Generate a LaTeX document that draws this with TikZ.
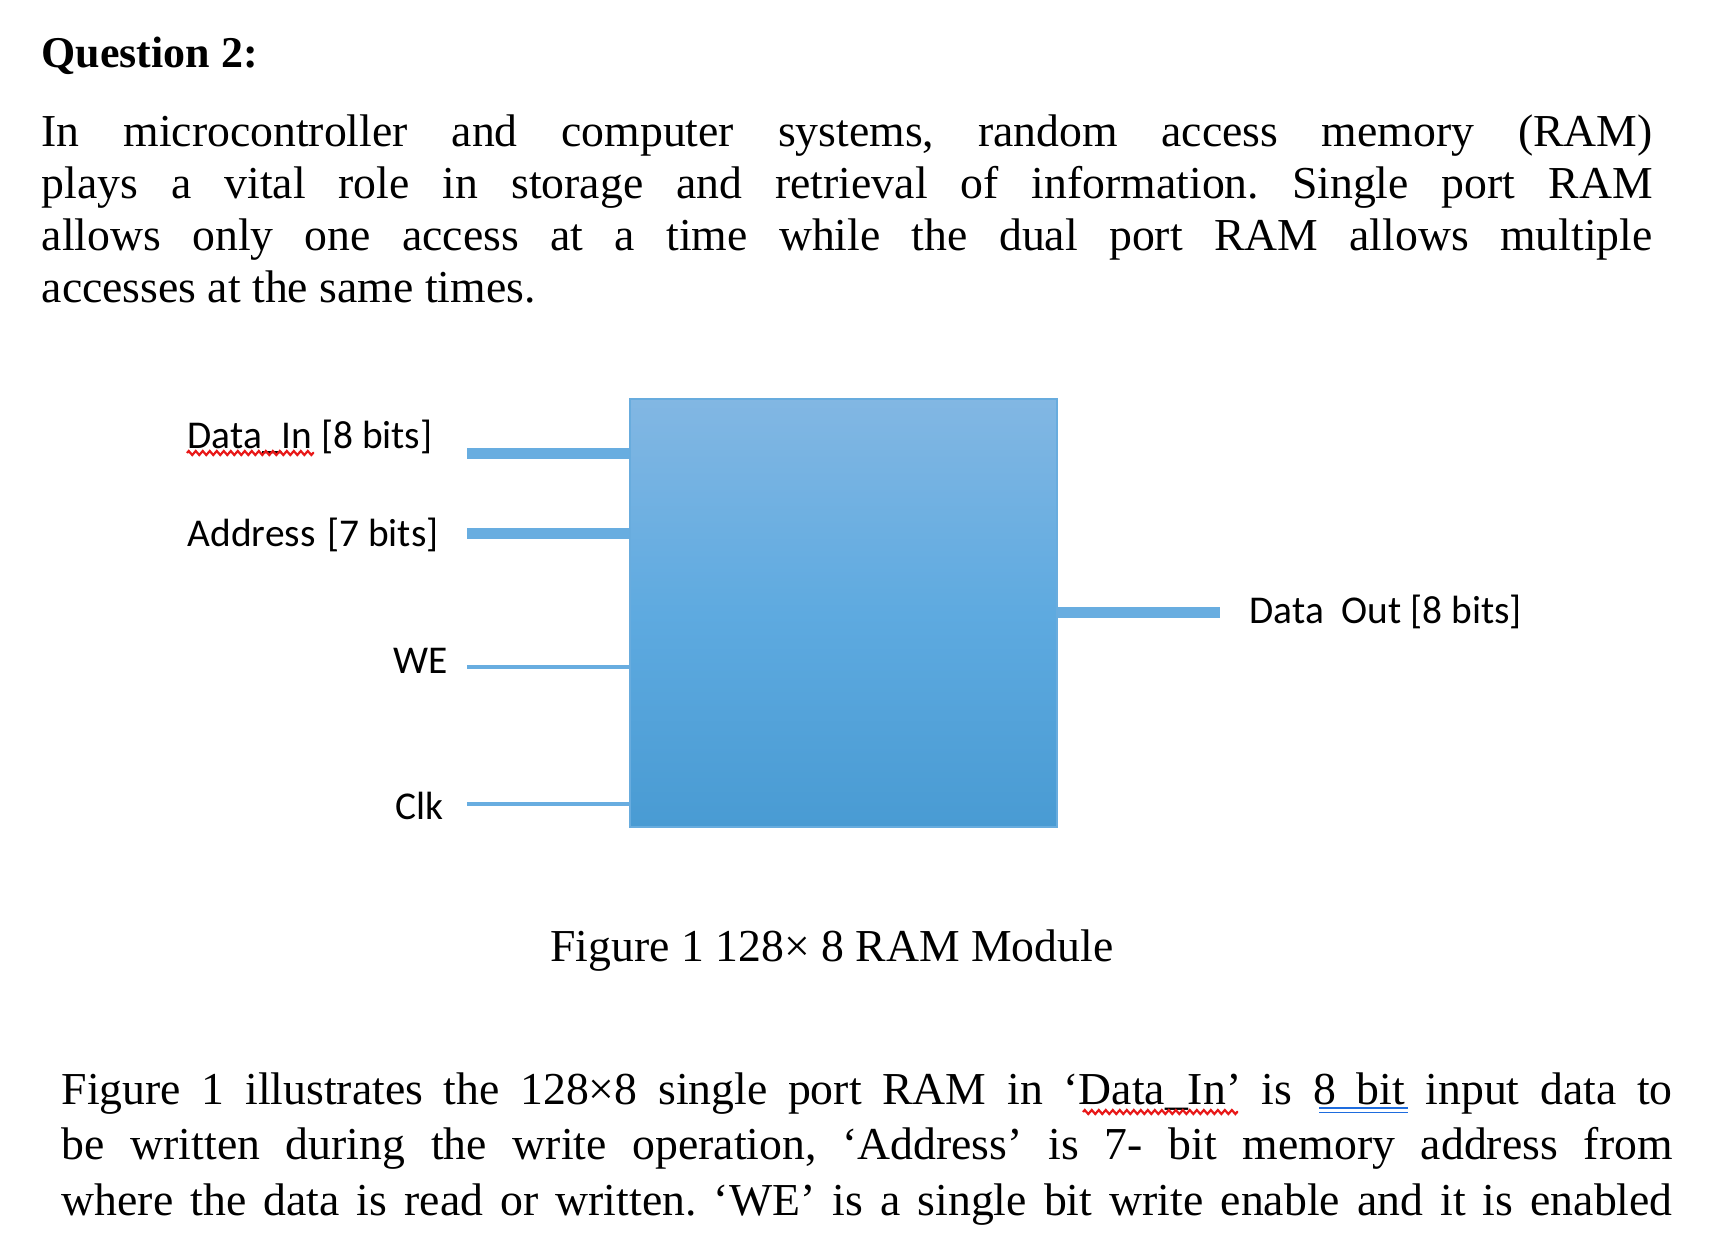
\documentclass[tikz,border=0pt]{standalone}
\usepackage{fontspec}
\setmainfont{Liberation Serif}
\newfontfamily\calibri{Carlito}
\usetikzlibrary{decorations.pathmorphing}
\frenchspacing

\definecolor{ramtop}{RGB}{130,183,227}
\definecolor{rammid}{RGB}{94,170,224}
\definecolor{rambot}{RGB}{73,155,211}
\definecolor{ramedge}{RGB}{104,172,222}
\definecolor{pinblue}{RGB}{104,173,224}
\definecolor{spellred}{RGB}{232,24,24}
\definecolor{gramblue}{RGB}{30,108,222}

\newcommand{\bodysize}{\fontsize{13}{15}\selectfont}
\newcommand{\fullline}[1]{\makebox[16.1cm][s]{#1}}

\begin{document}
\begin{tikzpicture}[
  x=0.01cm, y=-0.01cm,
  txt/.style={anchor=base west, inner sep=0pt, font=\bodysize},
  pinlbl/.style={inner sep=0pt, font=\calibri\fontsize{11.2}{13}\selectfont},
  ram/.style={draw=ramedge, line width=0.2mm, minimum width=4.27cm,
              minimum height=4.28cm, top color=ramtop, bottom color=rambot,
              middle color=rammid},
  bus/.style={pinblue, line width=1.1mm},
  wire/.style={pinblue, line width=0.4mm},
  squig/.style={spellred, line width=0.22mm, decorate,
                decoration={zigzag, segment length=0.7mm, amplitude=0.2mm}},
]
\useasboundingbox (0,0) rectangle (1728,1248);

% question text
\node[txt, font=\fontsize{12.5}{15}\selectfont\bfseries] (title) at (41,67) {Question 2:};
\node[txt] (p1a) at (41,146) {\fullline{In microcontroller and computer systems, random access memory (RAM)}};
\node[txt] (p1b) at (41,198) {\fullline{plays a vital role in storage and retrieval of information. Single port RAM}};
\node[txt] (p1c) at (41,250) {\fullline{allows only one access at a time while the dual port RAM allows multiple}};
\node[txt] (p1d) at (41,302) {accesses at the same times.};

% RAM block
\node[ram] (ram) at (843.5,613) {};

\coordinate (din)  at (467,453);
\coordinate (addr) at (467,533);
\coordinate (we)   at (467,667);
\coordinate (clk)  at (467,804);
\coordinate (dout) at (1220,612);

\draw[bus]  (din)  -- (din -| ram.west);
\draw[bus]  (addr) -- (addr -| ram.west);
\draw[wire] (we)   -- (we -| ram.west);
\draw[wire] (clk)  -- (clk -| ram.west);
\draw[bus]  (dout -| ram.east) -- (dout);

\node[pinlbl, anchor=base west] (dinlbl)  at (187,448) {Data\_In [8 bits]};
\node[pinlbl, anchor=base west] (addrlbl) at (187,546) {Address\hspace{0.3em}[7 bits]};
\node[pinlbl, anchor=base east] (welbl)   at (448,673) {WE};
\node[pinlbl, anchor=base east] (clklbl)  at (444,819) {Clk};
\node[pinlbl, anchor=base west] (doutlbl) at (1249,623) {Data\ \ Out [8 bits]};
\draw[squig] ([yshift=-0.5mm]dinlbl.base west) -- ++(127,0);

\node[txt, anchor=base] (caption) at (832,961) {Figure 1 128× 8 RAM Module};

% description
\node[txt] (p2a) at (61,1104) {\fullline{Figure 1 illustrates the 128×8 single port RAM in `Data\_In' is 8 bit input data to}};
\node[txt] (p2b) at (61,1159) {\fullline{be written during the write operation, `Address' is 7- bit memory address from}};
\node[txt] (p2c) at (61,1215) {\fullline{where the data is read or written. `WE' is a single bit write enable and it is enabled}};
\draw[squig] (1083,1112) -- (1238,1112);
\draw[gramblue, line width=0.15mm] (1319,1108) -- (1408,1108);
\draw[gramblue, line width=0.15mm] (1319,1112.5) -- (1408,1112.5);
\end{tikzpicture}
\end{document}
